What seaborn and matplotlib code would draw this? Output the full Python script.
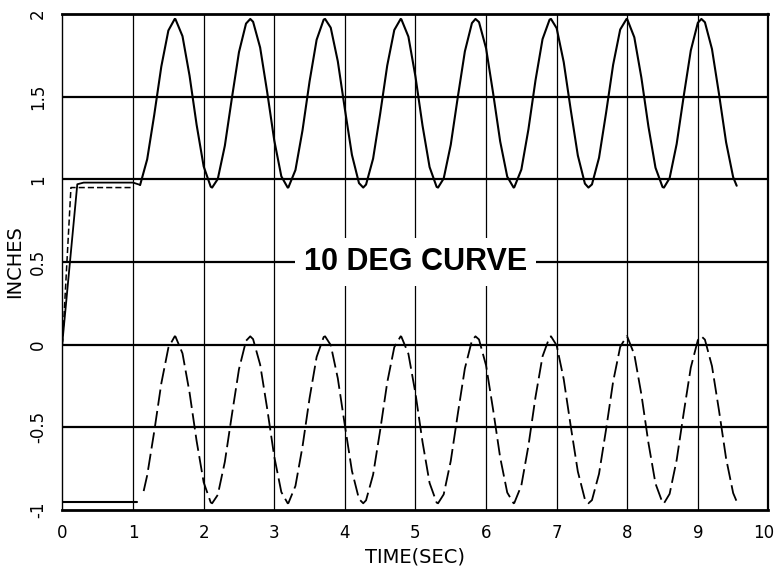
import pandas as pd
import seaborn as sns
import matplotlib.pyplot as plt
import matplotlib.transforms as mtransforms

# ------------------------------------------------------------
# Data (time in sec, position in inches)
# ------------------------------------------------------------
t_wave = [1.1, 1.2, 1.3, 1.4, 1.5, 1.6, 1.7, 1.8, 1.9, 2.0,
          2.1, 2.2, 2.3, 2.4, 2.5, 2.6, 2.7, 2.8, 2.9, 3.0,
          3.1, 3.2, 3.3, 3.4, 3.5, 3.6, 3.7, 3.8, 3.9, 4.0,
          4.1, 4.2, 4.3, 4.4, 4.5, 4.6, 4.7, 4.8, 4.9, 5.0,
          5.1, 5.2, 5.3, 5.4, 5.5, 5.6, 5.7, 5.8, 5.9, 6.0,
          6.1, 6.2, 6.3, 6.4, 6.5, 6.6, 6.7, 6.8, 6.9, 7.0,
          7.1, 7.2, 7.3, 7.4, 7.5, 7.6, 7.7, 7.8, 7.9, 8.0,
          8.1, 8.2, 8.3, 8.4, 8.5, 8.6, 8.7, 8.8, 8.9, 9.0,
          9.1, 9.2, 9.3, 9.4, 9.5, 9.55]

upper_wave = [0.966, 1.121, 1.390, 1.682, 1.900, 1.969, 1.866, 1.627, 1.330, 1.078,
              0.955, 1.002, 1.203, 1.492, 1.769, 1.942, 1.953, 1.797, 1.527, 1.235,
              1.018, 0.951, 1.056, 1.296, 1.592, 1.844, 1.966, 1.917, 1.714, 1.425,
              1.148, 0.977, 0.968, 1.125, 1.396, 1.688, 1.903, 1.968, 1.863, 1.621,
              1.325, 1.074, 0.954, 1.005, 1.209, 1.498, 1.774, 1.945, 1.951, 1.793,
              1.521, 1.229, 1.016, 0.952, 1.059, 1.302, 1.598, 1.848, 1.966, 1.914,
              1.709, 1.419, 1.144, 0.974, 0.969, 1.130, 1.402, 1.693, 1.906, 1.968,
              1.859, 1.615, 1.319, 1.070, 0.953, 1.007, 1.214, 1.504, 1.779, 1.947,
              1.950, 1.788, 1.515, 1.224, 1.013, 0.961]

lower_wave = [-0.944, -0.791, -0.525, -0.235, -0.019, 0.049, -0.053, -0.290, -0.583, -0.833,
              -0.955, -0.909, -0.709, -0.424, -0.149, 0.023, 0.033, -0.121, -0.388, -0.678,
              -0.892, -0.959, -0.855, -0.617, -0.324, -0.075, 0.046, -0.003, -0.204, -0.489,
              -0.764, -0.934, -0.942, -0.787, -0.519, -0.229, -0.016, 0.048, -0.056, -0.295,
              -0.589, -0.837, -0.956, -0.906, -0.704, -0.418, -0.144, 0.025, 0.031, -0.126,
              -0.394, -0.683, -0.895, -0.958, -0.852, -0.612, -0.318, -0.071, 0.046, -0.005,
              -0.209, -0.495, -0.768, -0.936, -0.941, -0.782, -0.513, -0.224, -0.014, 0.048,
              -0.060, -0.301, -0.595, -0.841, -0.957, -0.903, -0.698, -0.412, -0.139, 0.027,
              0.030, -0.130, -0.400, -0.689, -0.898, -0.949]

# crest / valley times seen on the trace
t_peaks = [1.59, 2.66, 3.72, 4.79, 5.85, 6.92, 7.99, 9.05]
t_troughs = [2.12, 3.19, 4.26, 5.32, 6.39, 7.45, 8.52]
upper_peak, upper_trough = 1.97, 0.95
lower_peak, lower_trough = 0.05, -0.96

# start-up segments before the oscillation begins
t_rise = [0.0, 0.21, 0.3, 1.0, 1.1]
y_rise = [0.02, 0.97, 0.98, 0.98, 0.966]
t_rise_dash = [0.0, 0.12, 1.0]
y_rise_dash = [0.0, 0.95, 0.95]
t_low_hold = [0.0, 1.05]
y_low_hold = [-0.95, -0.95]

x_ticks = [0, 1, 2, 3, 4, 5, 6, 7, 8, 9, 10]
y_ticks = [-1, -0.5, 0, 0.5, 1, 1.5, 2]
y_tick_labels = ["-1", "-0.5", "0", "0.5", "1", "1.5", "2"]

# ------------------------------------------------------------
# Figure
# ------------------------------------------------------------
sns.set_style("white")
plt.rcParams["font.family"] = ["DejaVu Sans"]
plt.rcParams["text.color"] = "black"
plt.rcParams["axes.labelcolor"] = "black"
plt.rcParams["xtick.color"] = "black"
plt.rcParams["ytick.color"] = "black"

fig = plt.figure(figsize=(7.77, 5.71), dpi=100)
ax = fig.add_axes([0.0804, 0.107, 0.9086, 0.8685])

# grid: thick horizontal, thin vertical
for yv in [-0.5, 0, 0.5, 1, 1.5]:
    ax.axhline(yv, color="black", lw=1.6, zorder=1)
for xv in range(1, 10):
    ax.axvline(xv, color="black", lw=0.9, zorder=1)

upper = pd.concat([
    pd.DataFrame({"t": t_wave, "y": upper_wave}),
    pd.DataFrame({"t": t_peaks, "y": upper_peak}),
    pd.DataFrame({"t": t_troughs, "y": upper_trough}),
]).sort_values("t")

lower = pd.DataFrame({"t": t_wave, "y": lower_wave})
lower.loc[0, "t"] = 1.15
lower.loc[0, "y"] = -0.886
lower = pd.concat([
    lower,
    pd.DataFrame({"t": t_peaks, "y": lower_peak}),
    pd.DataFrame({"t": t_troughs, "y": lower_trough}),
]).sort_values("t")

sns.lineplot(data=upper, x="t", y="y", ax=ax, color="black", lw=1.5, estimator=None, zorder=3)
sns.lineplot(data=lower, x="t", y="y", ax=ax, color="black", lw=1.3, estimator=None,
             linestyle=(0, (9, 3)), zorder=3)
sns.lineplot(x=t_rise, y=y_rise, ax=ax, color="black", lw=1.3, estimator=None, zorder=3)
sns.lineplot(x=t_rise_dash, y=y_rise_dash, ax=ax, color="black", lw=1.1, estimator=None,
             linestyle=(0, (4, 2)), zorder=3)
sns.lineplot(x=t_low_hold, y=y_low_hold, ax=ax, color="black", lw=1.5, estimator=None, zorder=3)

ax.text(5.0, 0.5, "10 DEG CURVE", family="Liberation Sans", fontweight="bold", fontsize=22,
        ha="center", va="center", zorder=5,
        bbox=dict(boxstyle="square,pad=0.3", fc="white", ec="none"))

ax.set_xlim(0, 10)
ax.set_ylim(-1, 2)
ax.set_xticks(x_ticks)
ax.set_xticklabels([str(v) for v in x_ticks], fontsize=12)
ax.set_yticks(y_ticks)
ax.set_yticklabels(y_tick_labels, fontsize=12, rotation=90, va="center")
ax.tick_params(axis="x", direction="out", length=6, width=1.0, color="black", pad=4)
ax.tick_params(axis="y", direction="out", length=7, width=1.6, color="black", pad=4)

# keep the last x label inside the canvas
last = ax.get_xticklabels()[-1]
last.set_transform(last.get_transform() + mtransforms.ScaledTranslation(-5 / 100, 0, fig.dpi_scale_trans))

ax.set_xlabel("TIME(SEC)", fontsize=14, labelpad=4)
ax.set_ylabel("INCHES", fontsize=14, labelpad=4)

for side, w in [("top", 2.0), ("bottom", 2.0), ("right", 1.6), ("left", 1.0)]:
    ax.spines[side].set_visible(True)
    ax.spines[side].set_color("black")
    ax.spines[side].set_linewidth(w)

fig.savefig("out.png", dpi=100)
plt.close(fig)
